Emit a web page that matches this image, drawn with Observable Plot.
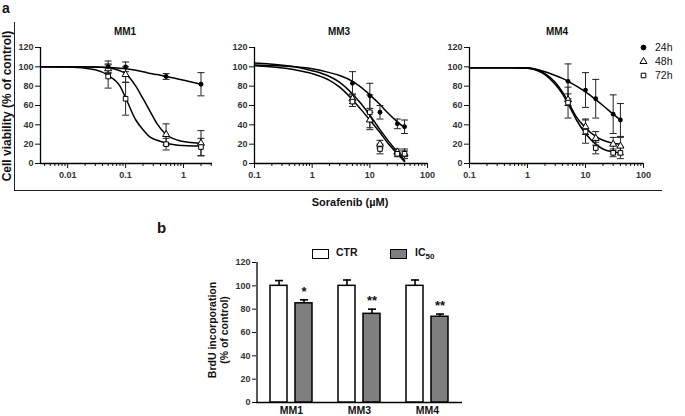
<!DOCTYPE html>
<html><head><meta charset="utf-8">
<script src="https://cdn.jsdelivr.net/npm/d3@7"></script>
<script src="https://cdn.jsdelivr.net/npm/@observablehq/plot@0.6"></script>
<style>
body{margin:0;width:685px;height:416px;position:relative;background:#fff;font-family:"Liberation Sans",Arial,sans-serif;overflow:hidden;color:#111}
.abs{position:absolute;white-space:nowrap}
</style></head><body>
<script>
// ---------- Panel a data ----------
const seriesNames = ["24h","48h","72h"];
const mm1Conc = [0.05, 0.1, 0.5, 2];
const mm1_24h = [100, 100, 90, 82];   const mm1_24h_err = [6, 5, 3, 12];
const mm1_48h = [98, 92, 30, 21];     const mm1_48h_err = [5, 8, 11, 13];
const mm1_72h = [90, 67, 20, 17];     const mm1_72h_err = [12, 17, 6, 9];
const mm1CurveX   = [0.0034, 0.01, 0.03, 0.05, 0.08, 0.1, 0.15, 0.2, 0.27, 0.35, 0.5, 0.8, 1.2, 2];
const mm1Curve24h = [100, 100, 99.7, 99.4, 98.6, 98, 96.5, 95, 93, 92, 90, 87.5, 85, 82];
const mm1Curve48h = [100, 100, 99.8, 99, 96, 93, 80, 67, 53, 41, 30, 24, 22, 21];
const mm1Curve72h = [100, 99.8, 97, 91, 80, 68, 45, 35, 27, 24, 21, 19, 18.3, 18];

const mm3Conc = [5, 10, 15, 30, 40];
const mm3_24h = [83, 70, 53, 41, 38]; const mm3_24h_err = [12, 13, 7, 5, 7];
const mm3_48h = [67, 45, 20, 12, 10]; const mm3_48h_err = [5, 8, 4, 3, 3];
const mm3_72h = [64, 53, 15, 10, 10]; const mm3_72h_err = [5, 18, 5, 3, 5];
const mm3CurveX   = [0.1, 0.5, 1, 2, 3, 5, 7, 10, 15, 20, 30, 40];
const mm3Curve24h = [102, 100, 98, 94, 91, 85, 79, 71, 61, 53, 43, 37];
const mm3Curve48h = [101, 97, 93, 86, 79, 66, 56, 45, 32, 22, 10, 2];
const mm3Curve72h = [104, 100, 96, 90, 84, 72, 62, 50, 35, 25, 12, 3];

const mm4Conc = [5, 10, 15, 30, 40];
const mm4_24h = [85, 76, 67, 51, 45]; const mm4_24h_err = [18, 18, 20, 20, 17];
const mm4_48h = [66, 38, 26, 20, 18]; const mm4_48h_err = [6, 8, 7, 7, 9];
const mm4_72h = [63, 33, 16, 11, 11]; const mm4_72h_err = [16, 12, 6, 4, 6];
const mm4CurveX   = [0.1, 0.5, 1, 1.5, 2, 3, 4, 5, 7, 10, 15, 20, 30, 40];
const mm4Curve24h = [99, 99, 99, 97, 95, 91, 88, 85, 80, 74, 66, 60, 51, 45];
const mm4Curve48h = [99, 99, 98.5, 97, 93, 84, 74, 64, 48, 37, 28, 24, 21, 20];
const mm4Curve72h = [99, 99, 98.5, 96, 92, 82, 72, 62, 45, 31, 20, 15, 12, 11];

const yTicksA = [0, 20, 40, 60, 80, 100, 120];
const mm1MajorTicks = [0.01, 0.1, 1];
const mm1TickLabels = ["0.01", "0.1", "1"];
const mm1MinorTicks = [0.004,0.005,0.006,0.007,0.008,0.009,0.02,0.03,0.04,0.05,0.06,0.07,0.08,0.09,0.2,0.3,0.4,0.5,0.6,0.7,0.8,0.9,2,3];
const decMajorTicks = [0.1, 1, 10, 100];
const decTickLabels = ["0.1", "1", "10", "100"];
const decMinorTicks = [0.2,0.3,0.4,0.5,0.6,0.7,0.8,0.9,2,3,4,5,6,7,8,9,20,30,40,50,60,70,80,90];

// ---------- Panel b data ----------
const cells = ["MM1", "MM3", "MM4"];
const ctrValues = [100, 100, 100];  const ctrErr = [4.5, 5, 5];
const ic50Values = [85, 76, 73.5];  const ic50Err = [3, 4, 2.3];
const sigLabels = ["*", "**", "**"];
const yTicksB = [0, 20, 40, 60, 80, 100, 120];

// ---------- helpers ----------
const capSymbol = {draw(ctx, size) { const w = Math.sqrt(size / Math.PI); ctx.moveTo(-w, 0); ctx.lineTo(w, 0); }};
const symbols = {"24h": "circle", "48h": "triangle", "72h": "square"};

function rowsOf(conc, vals, errs, s) { return conc.map((c, i) => ({c, v: vals[i], e: errs[i], s})); }
function curveOf(xs, ys) { return xs.map((x, i) => ({x, y: ys[i]})); }

function place(el, left, top) { const w = document.createElement("div"); w.className = "abs"; w.style.left = left + "px"; w.style.top = top + "px"; w.appendChild(el); document.body.appendChild(w); }
function label(text, left, top, css) { const d = document.createElement("div"); d.className = "abs"; d.innerHTML = text; d.style.left = left + "px"; d.style.top = top + "px"; Object.assign(d.style, css || {}); document.body.appendChild(d); return d; }

function panelA(cfg) {
  const rows = [].concat(
    rowsOf(cfg.conc, cfg.v24, cfg.e24, "24h"),
    rowsOf(cfg.conc, cfg.v48, cfg.e48, "48h"),
    rowsOf(cfg.conc, cfg.v72, cfg.e72, "72h"));
  const curves = [curveOf(cfg.cx, cfg.c24), curveOf(cfg.cx, cfg.c48), curveOf(cfg.cx, cfg.c72)];
  const fmt = d => { const k = cfg.major.findIndex(m => Math.abs(m - d) / m < 1e-6); return k >= 0 ? cfg.labels[k] : ""; };
  const marks = [
    Plot.axisY({ticks: yTicksA, tickSize: 5, tickPadding: 2, label: null, fill: "#333"}),
    Plot.axisX({ticks: cfg.minor, tickSize: 3, tickFormat: () => "", label: null}),
    Plot.axisX({ticks: cfg.major, tickSize: 5, tickPadding: 3, tickFormat: fmt, label: null, fill: "#333"}),
    Plot.ruleY([0], {stroke: "black", strokeWidth: 1.3}),
    Plot.ruleX([cfg.domain[0]], {stroke: "black", strokeWidth: 1.3}),
    ...curves.map(c => Plot.line(c, {x: "x", y: "y", curve: "monotone-x", stroke: "black", strokeWidth: 1.5})),
    Plot.ruleX(rows, {x: "c", y1: d => d.v - d.e, y2: d => d.v + d.e, stroke: "#222", strokeWidth: 1}),
    Plot.dot(rows, {x: "c", y: d => d.v + d.e, symbol: capSymbol, r: 3.5, stroke: "#222", strokeWidth: 1}),
    Plot.dot(rows, {x: "c", y: d => d.v - d.e, symbol: capSymbol, r: 3.5, stroke: "#222", strokeWidth: 1}),
    Plot.dot(rows.filter(d => d.s === "48h"), {x: "c", y: "v", symbol: "triangle", r: 2.6, fill: "white", stroke: "black", strokeWidth: 1}),
    Plot.dot(rows.filter(d => d.s === "72h"), {x: "c", y: "v", symbol: "square", r: 2.6, fill: "white", stroke: "black", strokeWidth: 1}),
    Plot.dot(rows.filter(d => d.s === "24h"), {x: "c", y: "v", symbol: "circle", r: 2.4, fill: "black"})
  ];
  return Plot.plot({
    width: 230, height: 200,
    marginLeft: cfg.ml, marginRight: cfg.mr, marginTop: 47, marginBottom: 37,
    x: {type: "log", domain: cfg.domain},
    y: {domain: [0, 120]},
    style: {fontFamily: "Liberation Sans, Arial, sans-serif", fontSize: "9px", fontWeight: "bold", color: "#111", background: "transparent", overflow: "visible"},
    marks
  });
}

// ---------- Panel a ----------
place(panelA({conc: mm1Conc, v24: mm1_24h, e24: mm1_24h_err, v48: mm1_48h, e48: mm1_48h_err, v72: mm1_72h, e72: mm1_72h_err,
  cx: mm1CurveX, c24: mm1Curve24h, c48: mm1Curve48h, c72: mm1Curve72h,
  domain: [0.0034, 3.16], major: mm1MajorTicks, labels: mm1TickLabels, minor: mm1MinorTicks, ml: 40, mr: 18}), 0, 0);
place(panelA({conc: mm3Conc, v24: mm3_24h, e24: mm3_24h_err, v48: mm3_48h, e48: mm3_48h_err, v72: mm3_72h, e72: mm3_72h_err,
  cx: mm3CurveX, c24: mm3Curve24h, c48: mm3Curve48h, c72: mm3Curve72h,
  domain: [0.1, 100], major: decMajorTicks, labels: decTickLabels, minor: decMinorTicks, ml: 44, mr: 13}), 210, 0);
place(panelA({conc: mm4Conc, v24: mm4_24h, e24: mm4_24h_err, v48: mm4_48h, e48: mm4_48h_err, v72: mm4_72h, e72: mm4_72h_err,
  cx: mm4CurveX, c24: mm4Curve24h, c48: mm4Curve48h, c72: mm4Curve72h,
  domain: [0.1, 100], major: decMajorTicks, labels: decTickLabels, minor: decMinorTicks, ml: 39, mr: 17}), 430, 0);

// bracket lines of panel a
label("", 14, 22, {width: "0px", height: "169px", borderLeft: "1.3px solid #222"});
label("", 14, 190, {width: "648px", height: "0px", borderTop: "1.3px solid #222"});

label("a", 2, 1, {fontSize: "14px", fontWeight: "bold", lineHeight: "14px"});
label("MM1", 125, 26, {fontSize: "10px", fontWeight: "bold", transform: "translateX(-50%)"});
label("MM3", 339, 26, {fontSize: "10px", fontWeight: "bold", transform: "translateX(-50%)"});
label("MM4", 557, 26, {fontSize: "10px", fontWeight: "bold", transform: "translateX(-50%)"});
label("Cell viability (% of control)", 7, 106, {fontSize: "12px", fontWeight: "bold", transform: "translate(-50%,-50%) rotate(-90deg)"});
label("Sorafenib (µM)", 350, 196, {fontSize: "11px", fontWeight: "bold", transform: "translateX(-50%)"});

// legend a
function legendSymbol(sym) {
  return Plot.plot({width: 10, height: 10, margin: 0, x: {domain: [0, 1], axis: null}, y: {domain: [0, 1], axis: null},
    style: {background: "transparent"},
    marks: [Plot.dot([0], {x: () => 0.5, y: () => 0.5, symbol: sym, r: sym === "circle" ? 2.4 : 2.6,
      fill: sym === "circle" ? "black" : "white", stroke: "black", strokeWidth: 1})]});
}
seriesNames.forEach((s, i) => {
  place(legendSymbol(symbols[s]), 638, [42, 56, 70][i]);
  label(s, 655, [41, 55, 69][i], {fontSize: "10.5px"});
});

// ---------- Panel b ----------
const ctrRows = cells.map((c, i) => ({cell: c, v: ctrValues[i], e: ctrErr[i]}));
const icRows = cells.map((c, i) => ({cell: c, v: ic50Values[i], e: ic50Err[i], sig: sigLabels[i]}));
const off = 12.5;
const panelB = Plot.plot({
  width: 300, height: 176,
  marginLeft: 76, marginRight: 18, marginTop: 22, marginBottom: 14,
  x: {domain: cells, padding: 0},
  y: {domain: [0, 120]},
  style: {fontFamily: "Liberation Sans, Arial, sans-serif", fontSize: "9px", fontWeight: "bold", color: "#111", background: "transparent", overflow: "visible"},
  marks: [
    Plot.axisY({ticks: yTicksB, tickSize: 4, tickPadding: 2, label: null, fill: "#333"}),
    Plot.axisX({tickSize: 0, tickPadding: 4, label: null, fontSize: 10.5}),
    Plot.ruleY([0], {stroke: "black", strokeWidth: 1.3}),
    Plot.ruleX([cells[0]], {dx: -34.5, stroke: "black", strokeWidth: 1.3}),
    Plot.ruleX(ctrRows, {x: "cell", y1: "v", y2: d => d.v + d.e, dx: -off, stroke: "black", strokeWidth: 1.6}),
    Plot.dot(ctrRows, {x: "cell", y: d => d.v + d.e, dx: -off, symbol: capSymbol, r: 4, stroke: "black", strokeWidth: 1.6}),
    Plot.ruleX(icRows, {x: "cell", y1: "v", y2: d => d.v + d.e, dx: off, stroke: "black", strokeWidth: 1.6}),
    Plot.dot(icRows, {x: "cell", y: d => d.v + d.e, dx: off, symbol: capSymbol, r: 4, stroke: "black", strokeWidth: 1.6}),
    Plot.barY(ctrRows, {x: "cell", y: "v", dx: -off, insetLeft: 25.5, insetRight: 25.5, fill: "white", stroke: "black", strokeWidth: 1.5}),
    Plot.barY(icRows, {x: "cell", y: "v", dx: off, insetLeft: 25.5, insetRight: 25.5, fill: "#7f7f7f", stroke: "black", strokeWidth: 1.5}),
    Plot.text(icRows, {x: "cell", y: d => d.v + d.e, text: "sig", dx: off, dy: -4, lineAnchor: "bottom", fontSize: 13, fill: "#111"})
  ]
});
place(panelB, 180, 240);

label("b", 157, 219, {fontSize: "15px", fontWeight: "bold"});
label("BrdU incorporation<br>(% of control)", 218, 330, {fontSize: "10.5px", fontWeight: "bold", textAlign: "center", lineHeight: "12px", transform: "translate(-50%,-50%) rotate(-90deg)"});
label("", 312, 249, {width: "15px", height: "8px", border: "1.3px solid black", background: "white"});
label("CTR", 336, 246, {fontSize: "10.5px", fontWeight: "bold"});
label("", 390, 249, {width: "15px", height: "8px", border: "1.3px solid black", background: "#7f7f7f"});
label("IC<sub style='font-size:8px'>50</sub>", 415, 246, {fontSize: "10.5px", fontWeight: "bold"});
</script>
</body></html>
